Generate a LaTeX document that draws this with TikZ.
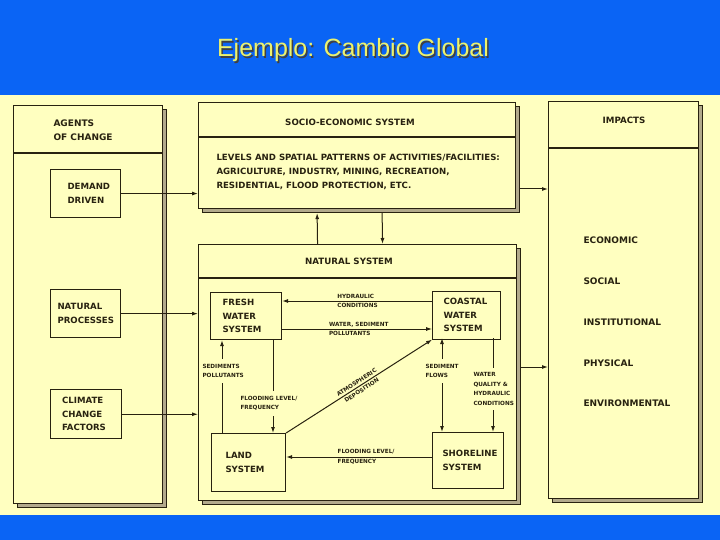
\documentclass[tikz,border=0pt]{standalone}
\usepackage{fontspec}
\setmainfont{Liberation Sans}
\newfontfamily\scanfont{DejaVu Sans}
\usepackage{tikz}
\usetikzlibrary{arrows.meta,positioning,shadows}
\definecolor{slideblue}{RGB}{10,100,245}
\definecolor{paper}{RGB}{255,255,192}
\definecolor{ink}{RGB}{40,34,16}
\definecolor{titleyellow}{RGB}{236,242,110}
\definecolor{hatch}{RGB}{178,170,140}
\newcommand{\headfont}{\scanfont\bfseries\fontsize{8.7}{14}\selectfont}
\newcommand{\unitfont}{\scanfont\bfseries\fontsize{8.6}{13.5}\selectfont}
\newcommand{\levelfont}{\scanfont\bfseries\fontsize{8.6}{14}\selectfont}
\newcommand{\lblfont}{\scanfont\bfseries\fontsize{5.7}{9.5}\selectfont}
\newcommand{\impactfont}{\scanfont\bfseries\fontsize{9}{10}\selectfont}

\begin{document}
\begin{tikzpicture}[x=1pt, y=-1pt, line width=1pt, >={Latex[length=6pt,width=4pt]}]
    \tikzstyle{panel}=[draw=ink, line width=1.1pt, fill=paper, inner sep=0pt, copy shadow={shadow xshift=4pt, shadow yshift=-4pt, fill=hatch, draw=ink, line width=0.6pt}]
    \tikzstyle{unit}=[draw=ink, line width=1.1pt, fill=paper, inner xsep=12pt, text width=47pt, align=left, text=ink, font=\unitfont]
    \tikzstyle{head}=[text=ink, font=\headfont, align=left, inner sep=0pt]
    \tikzstyle{link}=[draw=ink, ->]
    \tikzstyle{lbl}=[text=ink, font=\lblfont, inner sep=0pt, align=left]
    \tikzstyle{gap}=[lbl, fill=paper, inner ysep=5pt, inner xsep=1pt]
    % Slide background and title
    \fill[slideblue] (0,0) rectangle (720,540);
    \fill[paper] (0,95) rectangle (720,515);
    \node[anchor=base, text=black!75, font=\fontsize{25}{30}\selectfont] (titleshade) at (354.5,58.5) {Ejemplo: Cambio Global};
    \node[anchor=base, text=titleyellow, font=\fontsize{25}{30}\selectfont] (title) at (353,57) {Ejemplo: Cambio Global};
    % Agents of change
    \node[panel, anchor=north west, minimum width=149, minimum height=398] (agents) at (13,105) {};
    \draw[ink, line width=1.1pt] (agents.west |- 0,153) -- (agents.east |- 0,153);
    \node[head, font=\scanfont\bfseries\fontsize{9}{14}\selectfont, anchor=west] (agentshead) at (53,130) {AGENTS\\OF CHANGE};
    \node[unit, anchor=north west, minimum height=48, inner xsep=17pt, text width=36pt] (demand) at (50,169) {DEMAND\\DRIVEN};
    \node[unit, below=71pt of demand, minimum height=48, inner xsep=7pt, text width=56pt] (natproc) {NATURAL\\PROCESSES};
    \node[unit, below=51pt of natproc, minimum height=49] (climate) {CLIMATE\\CHANGE\\FACTORS};
    % Socio-economic system
    \node[panel, anchor=north west, minimum width=317, minimum height=106] (se) at (198,102) {};
    \draw[ink, line width=1.1pt] (se.west |- 0,137) -- (se.east |- 0,137);
    \node[head, anchor=center] (sehead) at (350,122) {SOCIO-ECONOMIC SYSTEM};
    \node[head, font=\levelfont, anchor=west] (selevels) at (216,172) {LEVELS AND SPATIAL PATTERNS OF ACTIVITIES/FACILITIES:\\AGRICULTURE, INDUSTRY, MINING, RECREATION,\\RESIDENTIAL, FLOOD PROTECTION, ETC.};
    % Natural system
    \node[panel, anchor=north west, minimum width=318, minimum height=256] (ns) at (198,244) {};
    \draw[ink, line width=1.1pt] (ns.west |- 0,278) -- (ns.east |- 0,278);
    \node[head, anchor=center] (nshead) at (349,261) {NATURAL SYSTEM};
    \node[unit, anchor=north west, minimum height=47] (fresh) at (210,292) {FRESH\\WATER\\SYSTEM};
    \node[unit, right=150pt of fresh, minimum height=48, text width=46pt, inner xsep=11pt, yshift=1pt] (coastal) {COASTAL\\WATER\\SYSTEM};
    \node[unit, anchor=north west, minimum height=58, text width=46pt, inner xsep=14pt] (land) at (211,433) {LAND\\SYSTEM};
    \node[unit, anchor=north west, minimum height=56, text width=51pt, inner xsep=10pt] (shore) at (432,432) {SHORELINE\\SYSTEM};
    % Impacts
    \node[panel, anchor=north west, minimum width=150, minimum height=397] (impacts) at (548,101) {};
    \draw[ink, line width=1.1pt] (impacts.west |- 0,148) -- (impacts.east |- 0,148);
    \node[head, anchor=center] (impactshead) at (624,120) {IMPACTS};
    \node[head, font=\impactfont, anchor=west] (economic) at (583,240) {ECONOMIC};
    \node[head, font=\impactfont, anchor=west] (social) at (583,281) {SOCIAL};
    \node[head, font=\impactfont, anchor=west] (institutional) at (583,322) {INSTITUTIONAL};
    \node[head, font=\impactfont, anchor=west] (physical) at (583,363) {PHYSICAL};
    \node[head, font=\impactfont, anchor=west] (environmental) at (583,403) {ENVIRONMENTAL};
    % Drivers into the systems
    \draw[link] (demand) -- (demand -| se.west);
    \draw[link] (natproc) -- (natproc -| ns.west);
    \draw[link] (climate) -- (climate -| ns.west);
    \draw[link, shorten >=4pt] ([xshift=-40pt]ns.north) -- ([xshift=-40pt]se.south);
    \draw[link, shorten <=4pt] ([xshift=25pt]se.south) -- ([xshift=25pt]ns.north);
    \coordinate (seout) at (519,189);
    \coordinate (nsout) at (520,367);
    \draw[link] (seout) -- (seout -| impacts.west);
    \draw[link] (nsout) -- (nsout -| impacts.west);
    % Flows inside the natural system
    \coordinate (hyd) at (432,301);
    \coordinate (wsp) at (282,329);
    \coordinate (flb) at (432,457);
    \draw[link] (hyd) -- (hyd -| fresh.east)
        node[lbl, pos=0.635, anchor=west] (hydlbl) {HYDRAULIC\\CONDITIONS};
    \draw[link] (wsp) -- (wsp -| coastal.west)
        node[lbl, pos=0.31, anchor=west] (wslbl) {WATER, SEDIMENT\\POLLUTANTS};
    \draw[link] (flb) -- (flb -| land.east)
        node[lbl, pos=0.65, anchor=west] (fllbl) {FLOODING LEVEL/\\FREQUENCY};
    \draw[link] (land.north east) -- (coastal.south west)
        node[lbl, midway, sloped, align=center] (atmlbl) {ATMOSPHERIC\\DEPOSITION};
    \coordinate (sedp) at (222,491);
    \coordinate (fld) at (273,339);
    \coordinate (sfl) at (442,338);
    \coordinate (wq) at (493,338);
    \draw[link] (sedp |- land.north) -- (sedp |- fresh.south);
    \draw[link] (fld) -- (fld |- land.north);
    \draw[link, <->] (sfl) -- (sfl |- shore.north);
    \draw[link] (wq) -- (wq |- shore.north);
    \node[gap, anchor=west] (sedlbl) at (201,371) {SEDIMENTS\\POLLUTANTS};
    \node[gap, anchor=west] (floodlbl) at (239,403.5) {FLOODING LEVEL/\\FREQUENCY};
    \node[gap, anchor=west] (sflbl) at (424,371) {SEDIMENT\\FLOWS};
    \node[gap, anchor=west] (wqlbl) at (472,389) {WATER\\QUALITY \&\\HYDRAULIC\\CONDITIONS};
\end{tikzpicture}
\end{document}
